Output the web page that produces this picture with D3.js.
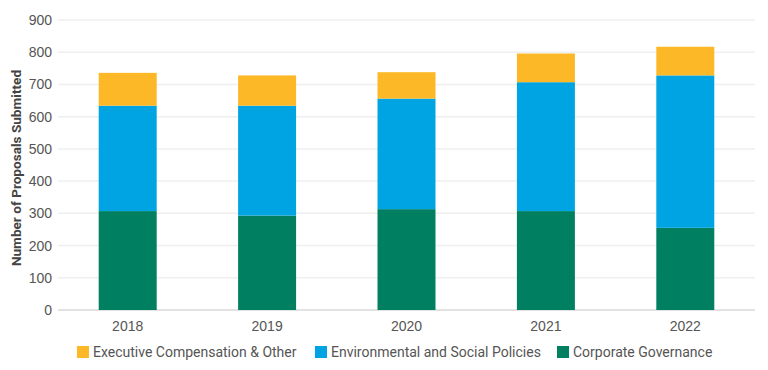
<!DOCTYPE html>
<html>
<head>
<meta charset="utf-8">
<script src="https://cdn.jsdelivr.net/npm/d3@7"></script>
<style>
  body { margin: 0; background: #fff; }
  svg { display: block; font-family: Roboto, "Noto Sans", sans-serif; }
</style>
</head>
<body>
<div class="chart"></div>
<script>
const years = ["2018", "2019", "2020", "2021", "2022"];
const seriesNames = ["Corporate Governance", "Environmental and Social Policies", "Executive Compensation & Other"];
const governance = [307, 293, 313, 307, 255];
const envSocial = [327, 341, 343, 400, 473];
const execComp = [102, 94, 82, 89, 89];
const yTicks = [0, 100, 200, 300, 400, 500, 600, 700, 800, 900];
const colors = ["#008061", "#00a4e3", "#fdb827"];
const legendOrder = [2, 1, 0];

const width = 768, height = 370;
const margin = { top: 20, right: 13, bottom: 60, left: 58 };

const svg = d3.select(".chart").append("svg")
  .attr("width", width)
  .attr("height", height);

const g = svg.append("g")
  .attr("transform", "translate(" + margin.left + "," + margin.top + ")");

const innerW = width - margin.left - margin.right;
const innerH = height - margin.top - margin.bottom;

const table = years.map((y, i) => ({
  year: y,
  s0: governance[i],
  s1: envSocial[i],
  s2: execComp[i]
}));
const stacked = d3.stack().keys(["s0", "s1", "s2"])(table);

const x = d3.scaleBand().domain(years).range([0, innerW]).paddingInner(0.584).paddingOuter(0.292);
const y = d3.scaleLinear().domain([0, 900]).range([innerH, 0]);

// grid
g.append("g")
  .selectAll("line")
  .data(yTicks)
  .enter()
  .append("line")
  .attr("x1", 0)
  .attr("x2", innerW)
  .attr("y1", (d) => y(d))
  .attr("y2", (d) => y(d))
  .attr("stroke", (d) => (d === 0 ? "#e2e2e2" : "#efefef"))
  .attr("stroke-width", (d) => (d === 0 ? 2 : 1.5));

// y axis labels
const yAxis = g.append("g")
  .call(d3.axisLeft(y).tickValues(yTicks).tickSize(0).tickPadding(6));
yAxis.select(".domain").remove();
yAxis.selectAll("text")
  .style("font-size", "14px")
  .attr("fill", "#555");

// x axis labels
const xAxis = g.append("g")
  .attr("transform", "translate(0," + innerH + ")")
  .call(d3.axisBottom(x).tickSize(0).tickPadding(11));
xAxis.select(".domain").remove();
xAxis.selectAll("text")
  .style("font-size", "14px")
  .attr("fill", "#555");

// bars
g.append("g")
  .selectAll("g")
  .data(stacked)
  .enter()
  .append("g")
  .attr("fill", (d, i) => colors[i])
  .selectAll("rect")
  .data((d) => d)
  .enter()
  .append("rect")
  .attr("x", (d) => x(d.data.year))
  .attr("y", (d) => y(d[1]))
  .attr("width", x.bandwidth())
  .attr("height", (d) => y(d[0]) - y(d[1]));

// y title
svg.append("text")
  .attr("transform", "translate(21,168) rotate(-90)")
  .attr("text-anchor", "middle")
  .style("font-size", "13.6px")
  .style("font-weight", "bold")
  .attr("fill", "#444")
  .text("Number of Proposals Submitted");

// legend
const legendX = [77, 315, 557];
const legend = svg.append("g")
  .selectAll("g")
  .data(legendOrder)
  .enter()
  .append("g")
  .attr("transform", (d, i) => "translate(" + legendX[i] + ",346)");

legend.append("rect")
  .attr("width", 12)
  .attr("height", 12)
  .attr("fill", (d) => colors[d]);

legend.append("text")
  .attr("x", 16)
  .attr("y", 6)
  .attr("dy", "0.35em")
  .style("font-size", "14px")
  .attr("fill", "#555")
  .text((d) => seriesNames[d]);
</script>
</body>
</html>
